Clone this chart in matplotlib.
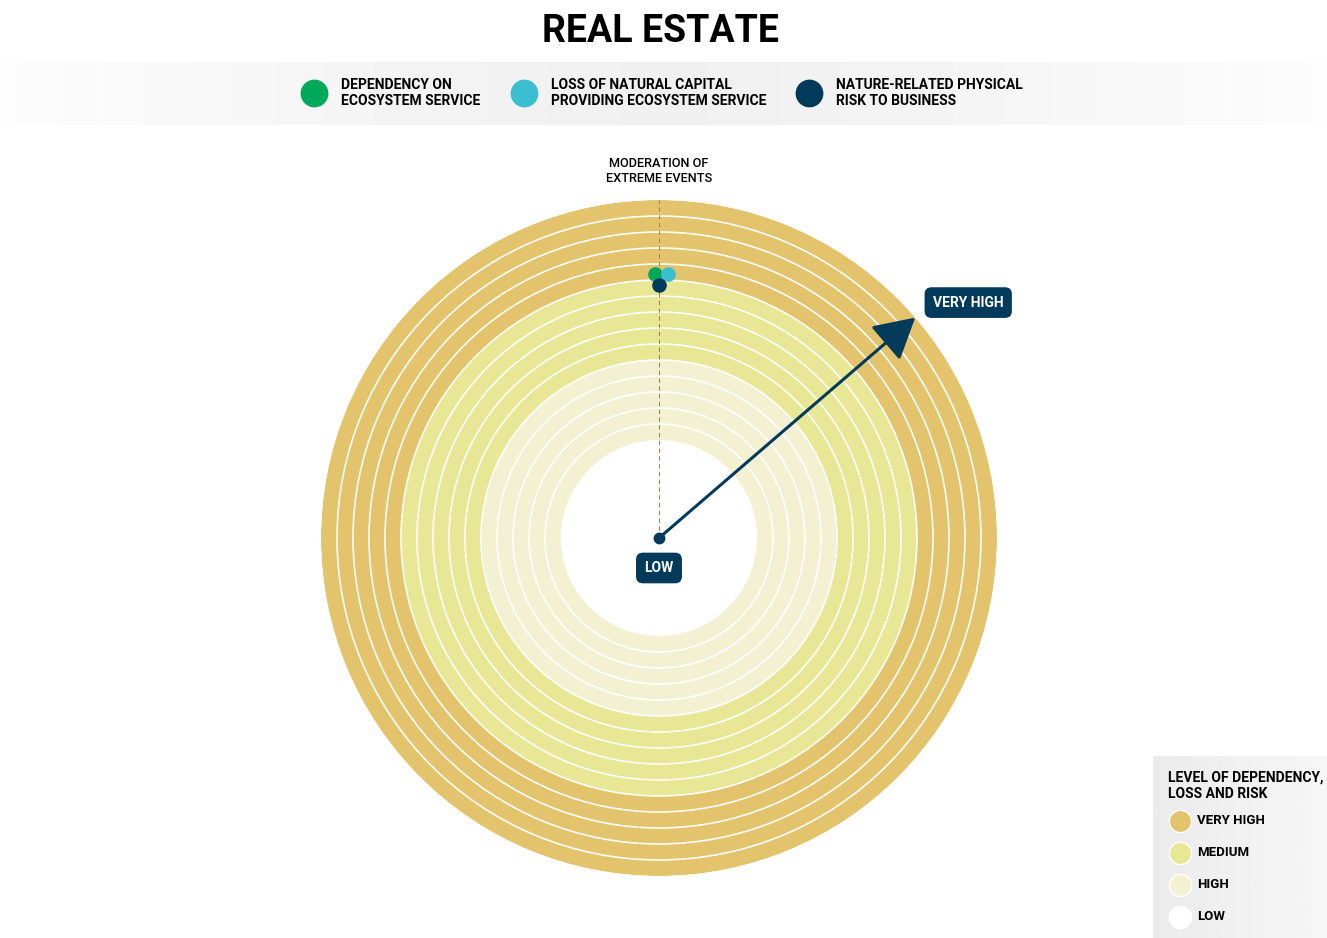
import matplotlib.pyplot as plt
import numpy as np

plt.rcParams['font.family'] = ['Roboto', 'DejaVu Sans']

title = 'REAL ESTATE'
axis_label = 'MODERATION OF\nEXTREME EVENTS'

# the three indicators, placed on the radial scale (ring units)
series_names = ['DEPENDENCY ON\nECOSYSTEM SERVICE',
                'LOSS OF NATURAL CAPITAL\nPROVIDING ECOSYSTEM SERVICE',
                'NATURE-RELATED PHYSICAL\nRISK TO BUSINESS']
series_colors = ['#00a85a', '#3bbfd0', '#023a5b']
series_levels = [10.4, 10.4, 9.7]
series_spread = [-0.9, 1.95, 0.0]  # degrees, keeps the dots from hiding each other

# rings from the inside out
band_names = ['HIGH', 'MEDIUM', 'VERY HIGH']
band_colors = ['#f3f1d2', '#e8e795', '#e3c46d']
rings_per_band = 5
hole = 6.125  # empty centre, in ring units

legend_names = ['VERY HIGH', 'MEDIUM', 'HIGH', 'LOW']
legend_colors = ['#e3c46d', '#e8e795', '#f3f1d2', '#ffffff']

scale_low = 'LOW'
scale_high = 'VERY HIGH'
arrow_angle = 49.3

navy = '#023a5b'

fig = plt.figure(figsize=(13.27, 9.38), dpi=100)

# background layer in pixel-like units
bg = fig.add_axes([0, 0, 1, 1], zorder=0)
bg.set_xlim(0, 1327)
bg.set_ylim(938, 0)
bg.axis('off')

# header strip, fading out to the sides
x = np.linspace(-1, 1, 400)
strip = 0.94 + 0.05 * np.abs(x) ** 1.3
bg.imshow(np.tile(strip, (2, 1)), cmap='gray', vmin=0, vmax=1, aspect='auto',
          extent=(0, 1327, 125, 62), interpolation='bilinear')

bg.text(660, 31, title, ha='center', va='center', fontsize=27, fontweight='bold')

hx = [314, 524, 809]
for px, name, col in zip(hx, series_names, series_colors):
    bg.plot(px, 93, 'o', ms=20, color=col, mec='none')
    bg.text(px + 27, 93, name, ha='left', va='center', fontsize=10,
            fontweight='bold', linespacing=1.15)

bg.text(659, 171, axis_label, ha='center', va='center', fontsize=9.2,
        fontweight='medium', linespacing=1.15)

# level legend, bottom right
lx = np.linspace(0, 1, 200)
box = 0.92 + 0.045 * lx
bg.imshow(np.tile(box, (2, 1)), cmap='gray', vmin=0, vmax=1, aspect='auto',
          extent=(1153, 1327, 938, 756), interpolation='bilinear')
bg.text(1168, 786, 'LEVEL OF DEPENDENCY,\nLOSS AND RISK', ha='left', va='center',
        fontsize=10, fontweight='bold', linespacing=1.2)
for i, (name, col) in enumerate(zip(legend_names, legend_colors)):
    y = 821 + 32 * i
    bg.plot(1180, y, 'o', ms=16, color=col, mec='white', mew=1)
    bg.text(1197, y, name, ha='left', va='center', fontsize=9.5, fontweight='semibold')
bg.set_xlim(0, 1327)
bg.set_ylim(938, 0)

# ring chart
ax = fig.add_axes([0.2419, 0.0661, 0.5094, 0.7207], projection='polar', zorder=1)
ax.set_theta_zero_location('N')
ax.set_theta_direction(-1)
ax.patch.set_alpha(0)

n_rings = rings_per_band * len(band_names)
ring_colors = np.repeat(band_colors, rings_per_band)
ax.bar(np.zeros(n_rings), np.ones(n_rings), width=2 * np.pi,
       bottom=np.arange(n_rings), color=ring_colors, linewidth=0,
       align='edge', zorder=1)

ax.set_ylim(-hole, n_rings)
ax.set_rticks(np.arange(1, n_rings))
ax.set_yticklabels([])
ax.set_xticks([])
ax.yaxis.grid(True, color='white', linewidth=1.15)
ax.xaxis.grid(False)
ax.set_axisbelow(False)
for sp in ax.spines.values():
    sp.set_visible(False)

# axis line for the single dimension
ax.plot([0, 0], [-hole, n_rings], color='#9c8850', lw=0.8, ls=(0, (4, 3)),
        zorder=3)

# scale arrow from centre to the outer ring
ax.annotate('', xy=(np.deg2rad(arrow_angle), n_rings), xytext=(0, -hole),
            arrowprops=dict(arrowstyle='-|>,head_length=2.5,head_width=1.4',
                            color=navy, lw=2.2, shrinkA=0, shrinkB=0),
            zorder=4)
ax.plot(0, -hole, 'o', ms=7.5, color=navy, zorder=5)

ax.annotate(scale_low, xy=(0, -hole), xytext=(0, -30), textcoords='offset pixels',
            ha='center', va='center', color='white', fontsize=10, fontweight='bold',
            bbox=dict(boxstyle='round,pad=0.6,rounding_size=0.5', fc=navy, ec='none'),
            zorder=6)
ax.annotate(scale_high, xy=(np.deg2rad(arrow_angle), n_rings), xytext=(53, 15),
            textcoords='offset pixels', ha='center', va='center', color='white',
            fontsize=10, fontweight='bold',
            bbox=dict(boxstyle='round,pad=0.6,rounding_size=0.5', fc=navy, ec='none'),
            zorder=6)

# indicator dots
for lvl, dth, col in zip(series_levels, series_spread, series_colors):
    ax.plot(np.deg2rad(dth), lvl, 'o', ms=10.5, color=col, mec='none', zorder=7,
            clip_on=False)

fig.savefig('out.png', dpi=100)
